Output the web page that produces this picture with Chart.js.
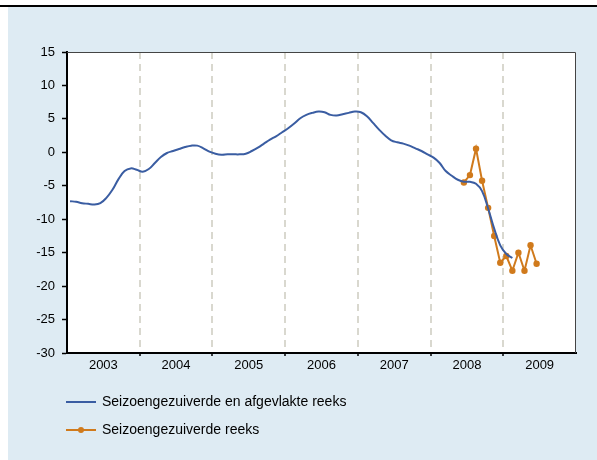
<!DOCTYPE html>
<html>
<head>
<meta charset="utf-8">
<script src="https://cdn.jsdelivr.net/npm/chart.js@4"></script>
<style>
  html, body { margin: 0; padding: 0; background: #fff; }
  body { width: 597px; height: 460px; position: relative; overflow: hidden; font-family: "Liberation Sans", Arial, sans-serif; }
  .topline { position: absolute; left: 0; top: 5px; width: 597px; height: 2px; background: #000; }
  .panel { position: absolute; left: 8px; top: 7px; width: 589px; height: 453px; background: #deebf3; }
  .chartbox { position: absolute; left: 0; top: 0; width: 589px; height: 453px; }
  .legend { position: absolute; left: 58px; top: 384px; font-size: 14px; color: #000; }
  .legend .item { position: relative; height: 28px; line-height: 20px; padding-left: 36px; }
  .legend .swatch { position: absolute; left: 0; top: 10px; width: 30px; height: 2px; }
  .legend .dot { position: absolute; left: 12px; top: -2px; width: 6px; height: 6px; border-radius: 50%; }
</style>
</head>
<body>
<div class="topline"></div>
<div class="panel">
  <div class="chartbox"><canvas id="chart"></canvas></div>
  <div class="legend" id="legend"></div>
</div>
<script>
document.addEventListener('DOMContentLoaded', function() {
    const years = ['2003', '2004', '2005', '2006', '2007', '2008', '2009'];

    // maandcijfers, eerste waarde = januari 2003
    const smoothedStart = '2003-01';
    const smoothed = [
        -7.3, -7.4, -7.6, -7.7, -7.8, -7.6, -6.8, -5.6, -4.0, -2.8, -2.4, -2.6,
        -2.9, -2.5, -1.6, -0.7, -0.1, 0.2, 0.5, 0.8, 1.0, 1.0, 0.6, 0.1,
        -0.2, -0.35, -0.3, -0.3, -0.3, -0.2, 0.2, 0.7, 1.3, 1.9, 2.4, 3.0,
        3.6, 4.3, 5.1, 5.6, 5.9, 6.1, 6.0, 5.6, 5.5, 5.7, 5.9, 6.1,
        6.0, 5.4, 4.4, 3.4, 2.5, 1.8, 1.5, 1.3, 1.0, 0.6, 0.2, -0.3,
        -0.8, -1.6, -2.8, -3.5, -4.1, -4.4, -4.4, -4.7, -5.8, -8.4, -11.4, -13.9,
        -15.2, -15.8
    ];

    // eerste waarde = juni 2008
    const seasonalStart = '2008-06';
    const seasonal = [
        -4.5, -3.4, 0.55, -4.25, -8.3, -12.5, -16.5, -15.5, -17.7, -15.0, -17.7, -13.9, -16.65
    ];

    const labels = ['Seizoengezuiverde en afgevlakte reeks', 'Seizoengezuiverde reeks'];
    const colors = ['#3a5da2', '#d07a1c'];

    function toPoints(start, values) {
        const [y, m] = start.split('-').map(Number);
        return values.map((v, i) => ({ x: y + (m - 1 + i + 0.5) / 12, y: v }));
    }

    const firstYear = Number(years[0]);
    const lastYear = Number(years[years.length - 1]) + 1;

    const isYear = v => Math.abs(v - Math.round(v)) < 1e-6;
    const isInnerYear = v => isYear(v) && v > firstYear && v < lastYear;

    const frame = {
        id: 'frame',
        beforeDraw(chart) {
            const { ctx, chartArea: a } = chart;
            ctx.save();
            ctx.fillStyle = '#fff';
            ctx.fillRect(a.left, a.top, a.right - a.left, a.bottom - a.top);
            ctx.restore();
        },
        afterDraw(chart) {
            const { ctx, chartArea: a } = chart;
            ctx.save();
            ctx.strokeStyle = '#444';
            ctx.lineWidth = 1;
            ctx.beginPath();
            ctx.moveTo(a.left, a.top + 0.5);
            ctx.lineTo(a.right - 0.5, a.top + 0.5);
            ctx.lineTo(a.right - 0.5, a.bottom);
            ctx.stroke();
            ctx.restore();
        }
    };

    const tickFont = { family: '"Liberation Sans", Arial, sans-serif', size: 13 };

    new Chart(document.getElementById('chart'), {
        type: 'line',
        data: {
            datasets: [{
                label: labels[0],
                data: toPoints(smoothedStart, smoothed),
                borderColor: colors[0],
                borderWidth: 2,
                pointRadius: 0,
                tension: 0.4,
                fill: false
            }, {
                label: labels[1],
                data: toPoints(seasonalStart, seasonal),
                borderColor: colors[1],
                backgroundColor: colors[1],
                borderWidth: 2,
                pointRadius: 3.2,
                pointBorderWidth: 0,
                tension: 0,
                fill: false
            }]
        },
        options: {
            responsive: true,
            maintainAspectRatio: false,
            animation: false,
            layout: { padding: { left: 19, top: 45, right: 21, bottom: 82 } },
            plugins: { legend: { display: false }, tooltip: { enabled: false } },
            scales: {
                x: {
                    type: 'linear',
                    min: firstYear,
                    max: lastYear,
                    afterFit: s => { s.height = 25; },
                    ticks: {
                        stepSize: 0.5,
                        autoSkip: false,
                        maxRotation: 0,
                        padding: 2,
                        color: '#000',
                        font: tickFont,
                        callback: v => isYear(v) ? '' : String(Math.floor(v))
                    },
                    grid: {
                        color: ctx => isInnerYear(ctx.tick.value) ? '#d9d8cf' : 'rgba(0,0,0,0)',
                        lineWidth: 2,
                        tickColor: ctx => isInnerYear(ctx.tick.value) ? '#000' : 'rgba(0,0,0,0)',
                        tickWidth: 1.5,
                        tickLength: 3,
                        tickBorderDash: []
                    },
                    border: { display: true, color: '#000', width: 2, dash: [7, 5] }
                },
                y: {
                    min: -30,
                    max: 15,
                    afterFit: s => { s.width = 40; },
                    ticks: {
                        stepSize: 5,
                        padding: 7,
                        color: '#000',
                        font: tickFont
                    },
                    grid: {
                        drawOnChartArea: false,
                        tickColor: '#000',
                        tickLength: 5,
                        tickWidth: 1.5
                    },
                    border: { display: true, color: '#000', width: 2 }
                }
            }
        },
        plugins: [frame]
    });

    document.getElementById('legend').innerHTML = labels.map((l, i) => `
        <div class="item">
            <span class="swatch" style="background:${colors[i]}">${i === 1 ? `<span class="dot" style="background:${colors[i]}"></span>` : ''}</span>
            ${l}
        </div>
    `).join('');
});
</script>
</body>
</html>
